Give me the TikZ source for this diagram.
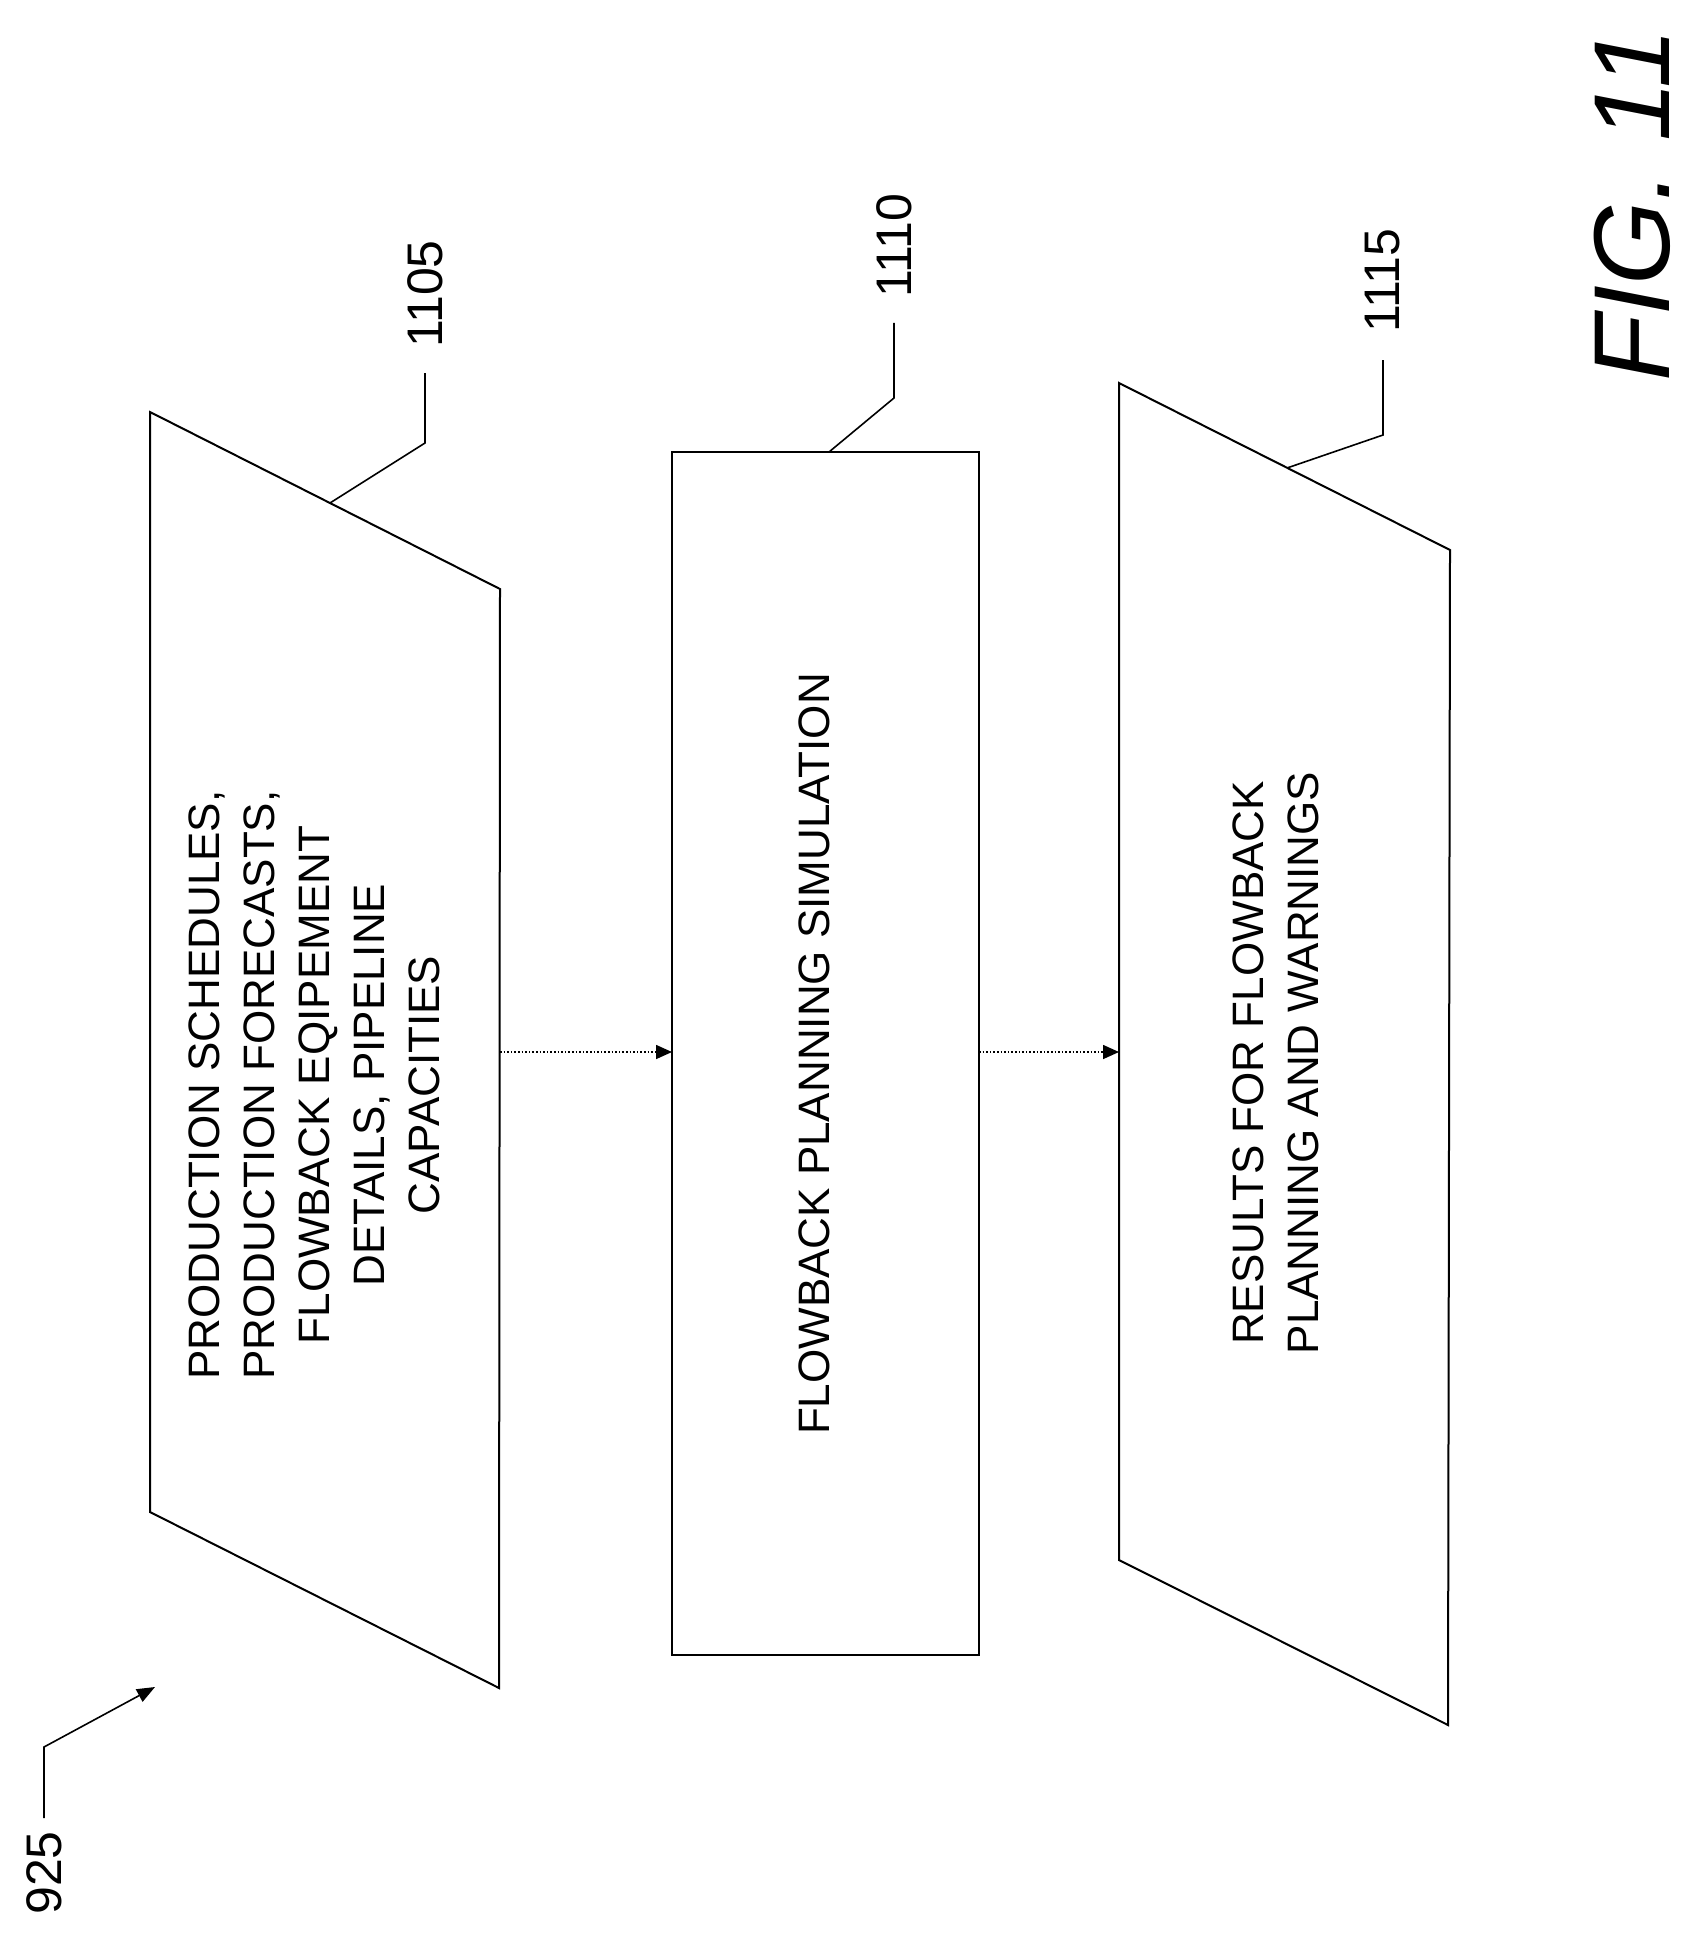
\documentclass[tikz,border=0pt]{standalone}
\usepackage{fontspec}
\setmainfont{Liberation Sans}
\usetikzlibrary{arrows.meta}
\begin{document}
\begin{tikzpicture}[x=1pt,y=-1pt,
  box/.style={draw,line width=2pt},
  lead/.style={line width=1.6pt},
  txt/.style={rotate=90,align=center,font=\fontsize{44}{55}\selectfont},
  ref/.style={rotate=90,font=\fontsize{50}{55}\selectfont},
  flow/.style={line width=1.6pt,dotted,-{Triangle[length=16pt,width=14pt]}}]
\useasboundingbox (0,0) rectangle (1701,1934);
\draw[box] (150,412) -- (500,589) -- (499,1688) -- (150,1512) -- cycle;
\draw[box] (672,452) rectangle (979,1655);
\draw[box] (1119,383) -- (1450,550) -- (1448,1725) -- (1119,1560) -- cycle;
\coordinate (b1r) at (500,1052);
\coordinate (b2l) at (672,1052);
\coordinate (b2r) at (979,1052);
\coordinate (b3l) at (1119,1052);
\node[txt] (t1) at (314,1085) {PRODUCTION SCHEDULES,\\PRODUCTION FORECASTS,\\FLOWBACK EQIPEMENT\\DETAILS, PIPELINE\\CAPACITIES};
\node[txt] (t2) at (814,1054) {FLOWBACK PLANNING SIMULATION};
\node[txt] (t3) at (1276,1063) {RESULTS FOR FLOWBACK\\PLANNING AND WARNINGS};
\draw[flow] (b1r) -- (b2l);
\draw[flow] (b2r) -- (b3l);
\node[ref] (r1) at (425,294) {1105};
\node[ref] (r2) at (894,246) {1110};
\node[ref] (r3) at (1383,281) {1115};
\draw[lead] (330,503) -- (425,443) -- (425,373);
\draw[lead] (829,452) -- (894,398) -- (894,323);
\draw[lead] (1287,468) -- (1383,435) -- (1383,360);
\node[ref] (r0) at (44,1873) {925};
\coordinate (a0) at (155,1687);
\draw[lead,-{Triangle[length=18pt,width=14pt]}] (44,1818) -- (44,1747) -- (a0);
\node[rotate=90,font=\fontsize{108}{115}\selectfont\itshape] (fig) at (1632,205) {FIG. 11};
\end{tikzpicture}
\end{document}
